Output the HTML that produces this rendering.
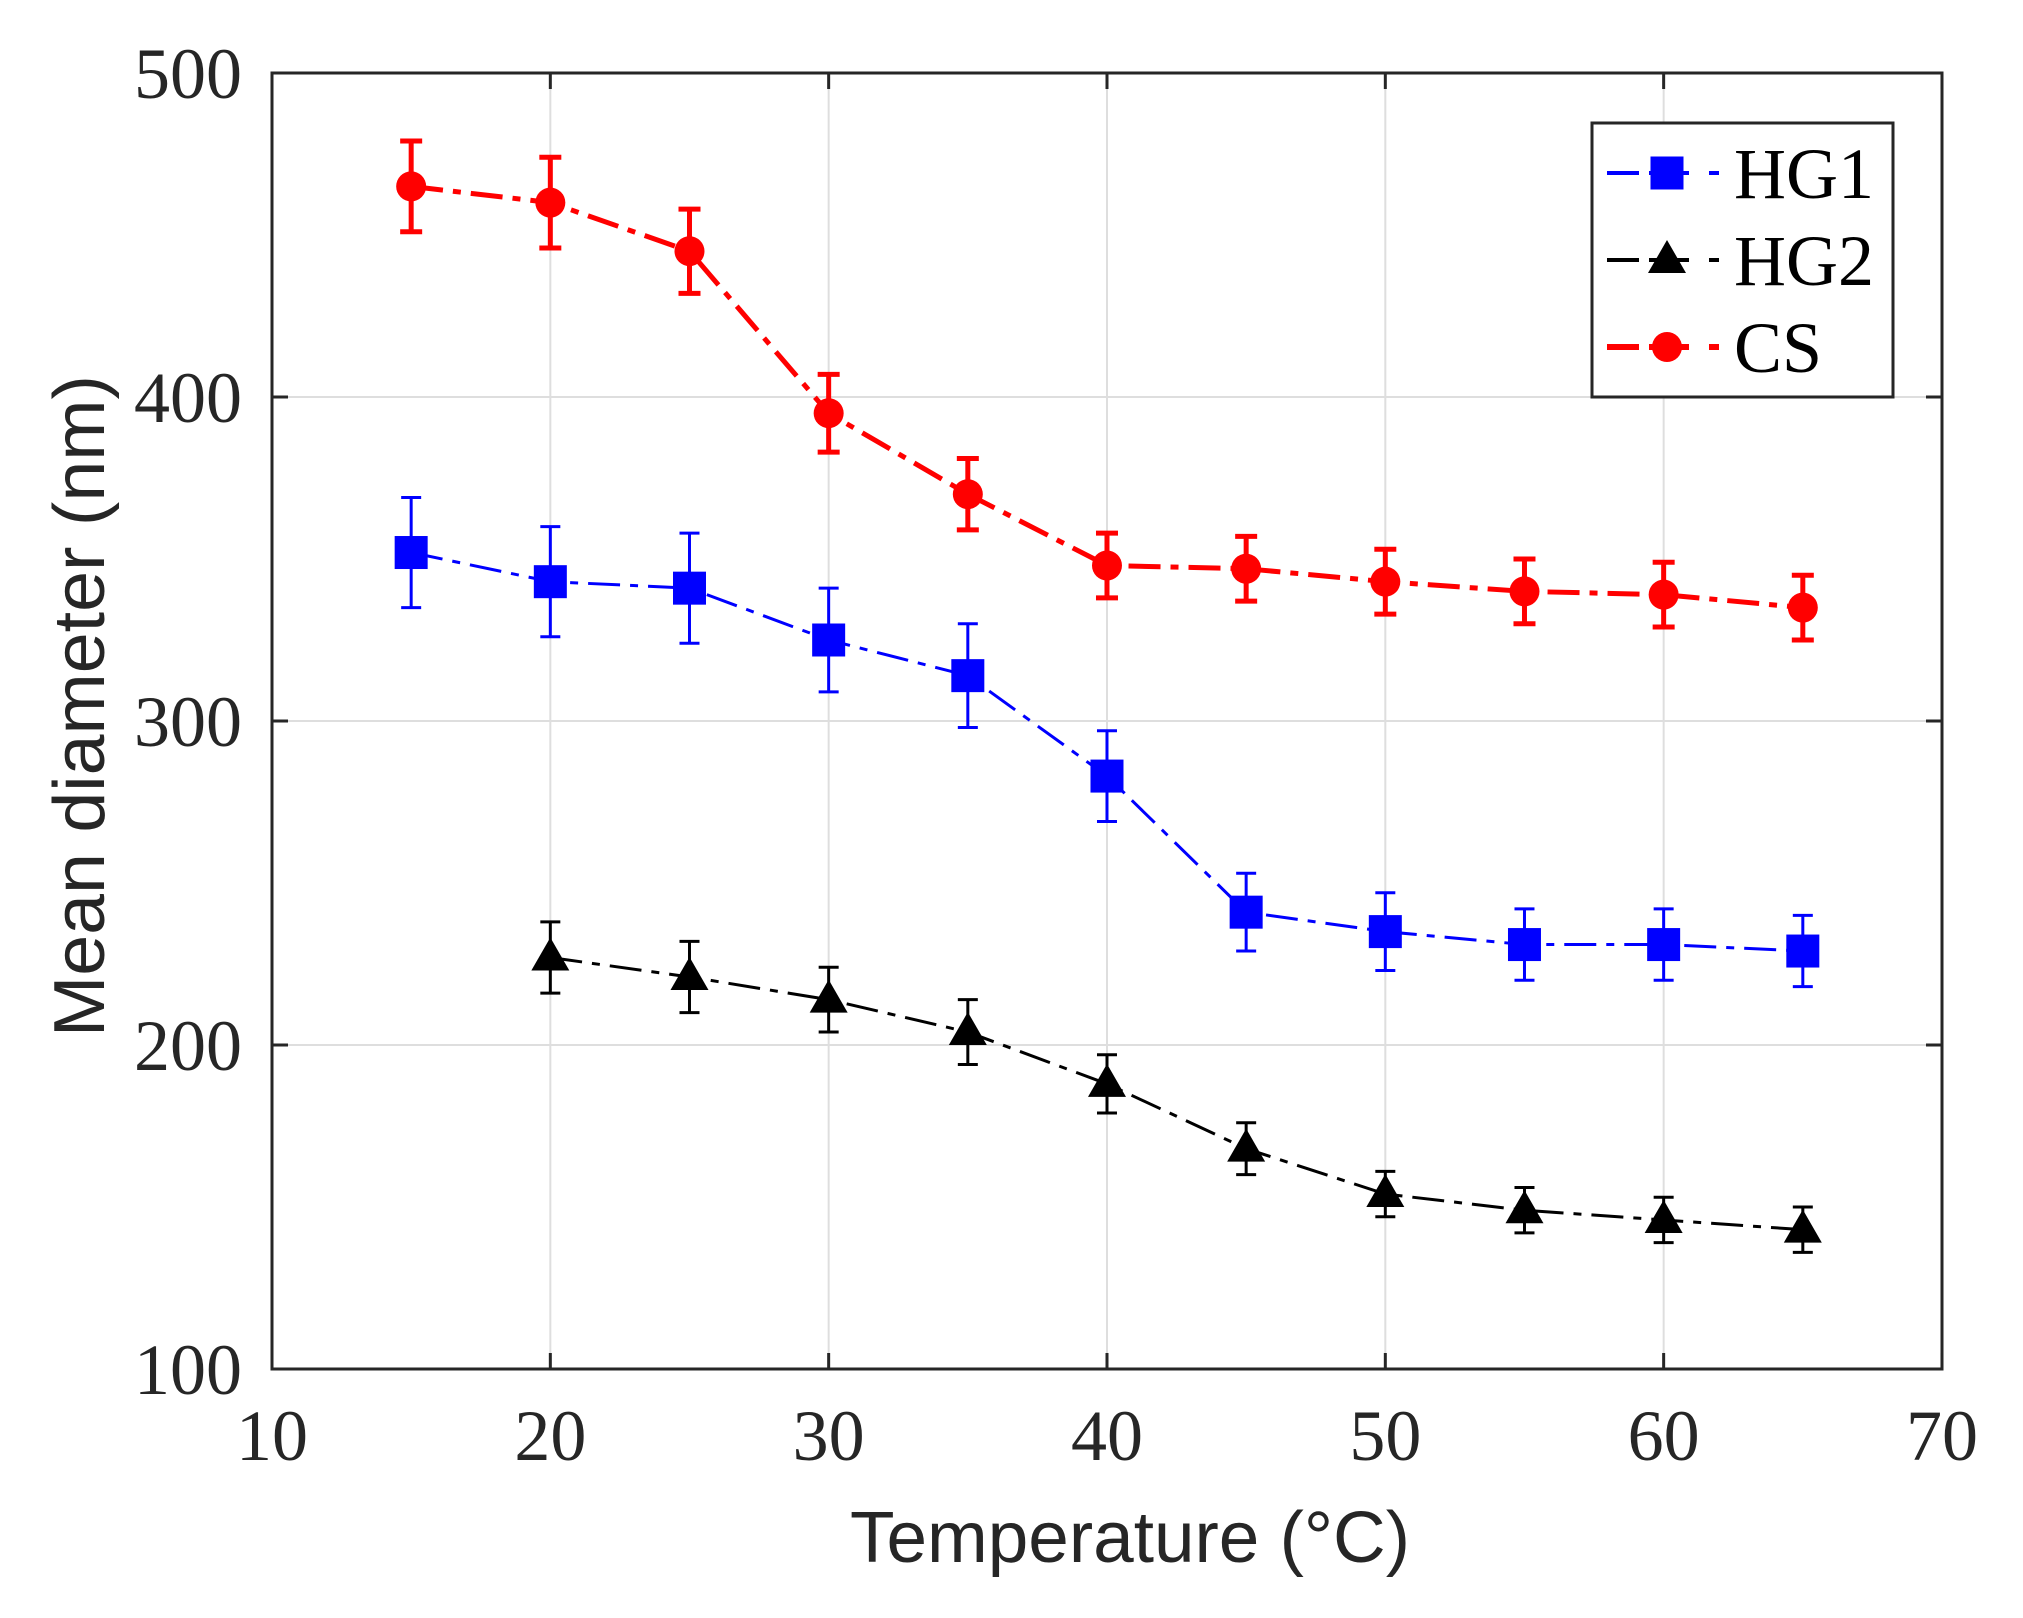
<!DOCTYPE html>
<html><head><meta charset="utf-8"><style>
html,body{margin:0;padding:0;background:#fff;}
svg{display:block;}
</style></head><body>
<svg id="s" width="2023" height="1618" viewBox="0 0 2023 1618" xmlns="http://www.w3.org/2000/svg">
<rect width="2023" height="1618" fill="#fff"/>
<g id="grid" stroke="#dedede" stroke-width="2"></g>
<g id="data"></g>
<rect x="272" y="73" width="1670" height="1296" fill="none" stroke="#262626" stroke-width="3"/>
<g id="ticks" stroke="#262626" stroke-width="3"></g>
<g id="labels" font-family="Liberation Serif, serif" font-size="72" fill="#262626"></g>
<text x="1130" y="1562" font-family="Liberation Sans, sans-serif" font-size="72" fill="#262626" text-anchor="middle" textLength="560" lengthAdjust="spacingAndGlyphs">Temperature (°C)</text>
<text transform="translate(104,706) rotate(-90)" font-family="Liberation Sans, sans-serif" font-size="72" fill="#262626" text-anchor="middle" textLength="662" lengthAdjust="spacingAndGlyphs">Mean diameter (nm)</text>
<g id="legend">
<rect x="1592" y="123" width="301" height="274" fill="#fff" stroke="#262626" stroke-width="3"/>
</g>
</svg>
<script>
const NS="http://www.w3.org/2000/svg";
function el(p,t,a,txt){const e=document.createElementNS(NS,t);for(const k in a)e.setAttribute(k,a[k]);if(txt!==undefined)e.textContent=txt;p.appendChild(e);return e;}
const X=t=>272+(t-10)*27.833, Y=v=>1369-(v-100)*3.24;
const g=document.getElementById('grid'),tk=document.getElementById('ticks'),lb=document.getElementById('labels');
for(let t=20;t<70;t+=10){el(g,'line',{x1:X(t),x2:X(t),y1:73,y2:1369});}
for(let v=200;v<500;v+=100){el(g,'line',{x1:272,x2:1942,y1:Y(v),y2:Y(v)});}
for(let t=10;t<=70;t+=10){el(tk,'line',{x1:X(t),x2:X(t),y1:1369,y2:1353});el(tk,'line',{x1:X(t),x2:X(t),y1:73,y2:89});
 el(lb,'text',{x:X(t),y:1460,'text-anchor':'middle'},String(t));}
for(let v=100;v<=500;v+=100){el(tk,'line',{x1:272,x2:288,y1:Y(v),y2:Y(v)});el(tk,'line',{x1:1942,x2:1926,y1:Y(v),y2:Y(v)});
 el(lb,'text',{x:242,y:Y(v)+25,'text-anchor':'end'},String(v));}
const d=document.getElementById('data');
const series=[
 {c:'#0000ff',w:3,m:'sq',cap:10,pts:[[15,352,17],[20,343,17],[25,341,17],[30,325,16],[35,314,16],[40,283,14],[45,241,12],[50,235,12],[55,231,11],[60,231,11],[65,229,11]]},
 {c:'#000',w:3,m:'tri',cap:10,pts:[[20,227,11],[25,221,11],[30,214,10],[35,204,10],[40,188,9],[45,168,8],[50,154,7],[55,149,7],[60,146,7],[65,143,7]]},
 {c:'#ff0000',w:5,m:'ci',cap:11,pts:[[15,465,14],[20,460,14],[25,445,13],[30,395,12],[35,370,11],[40,348,10],[45,347,10],[50,343,10],[55,340,10],[60,339,10],[65,335,10]]}
];
function marker(p,m,x,y,c){
 if(m==='sq')el(p,'rect',{x:x-16.5,y:y-16.5,width:33,height:33,fill:c});
 else if(m==='tri')el(p,'polygon',{points:`${x},${y-20} ${x-19},${y+13} ${x+19},${y+13}`,fill:c});
 else el(p,'circle',{cx:x,cy:y,r:15,fill:c});
}
for(const s of series){
 const pts=s.pts.map(p=>[X(p[0]),Y(p[1])]);
 el(d,'polyline',{points:pts.map(p=>p.join(',')).join(' '),fill:'none',stroke:s.c,'stroke-width':s.w,'stroke-dasharray':'32 10 8 10'});
 for(const p of s.pts){const x=X(p[0]),y1=Y(p[1]-p[2]),y2=Y(p[1]+p[2]);
  el(d,'line',{x1:x,x2:x,y1:y1,y2:y2,stroke:s.c,'stroke-width':s.w});
  el(d,'line',{x1:x-s.cap,x2:x+s.cap,y1:y1,y2:y1,stroke:s.c,'stroke-width':s.w});
  el(d,'line',{x1:x-s.cap,x2:x+s.cap,y1:y2,y2:y2,stroke:s.c,'stroke-width':s.w});
  marker(d,s.m,x,Y(p[1]),s.c);}
}
const L=document.getElementById('legend');const names=['HG1','HG2','CS'];const ly=[173,260,347];
series.forEach((s,i)=>{
 el(L,'line',{x1:1607,x2:1720,y1:ly[i],y2:ly[i],stroke:s.c,'stroke-width':s.w+1,'stroke-dasharray':'32 10 40 20 10 100'});
 marker(L,s.m,1667,ly[i],s.c);
 el(L,'text',{x:1734,y:ly[i]+25,'font-family':'Liberation Serif, serif','font-size':72,fill:'#000'},names[i]);
});
</script>
</body></html>
